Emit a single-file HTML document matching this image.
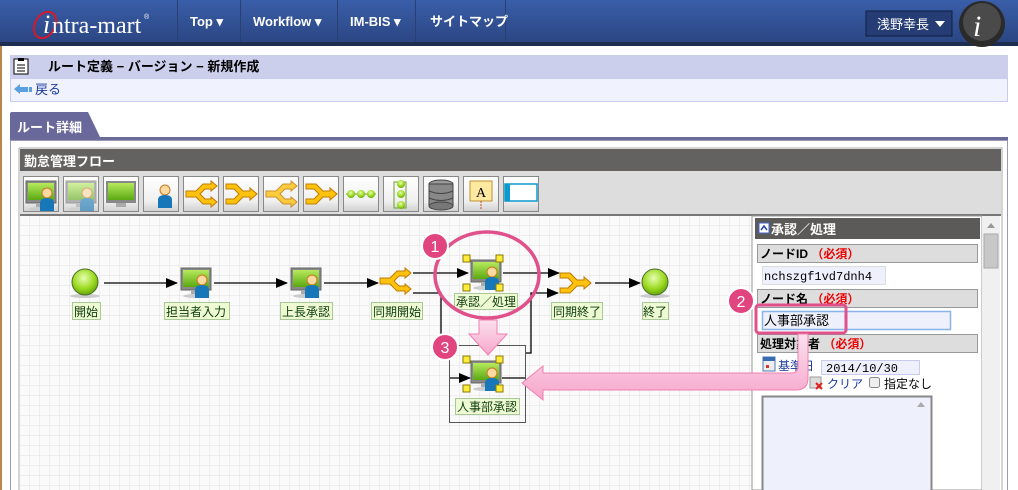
<!DOCTYPE html>
<html><head><meta charset="utf-8"><style>
body{margin:0;width:1018px;height:490px;overflow:hidden;background:#fff;font-family:"Liberation Sans","Noto Sans CJK JP",sans-serif;}
svg{display:block}
</style></head><body>
<svg width="1018" height="490" viewBox="0 0 1018 490" xmlns="http://www.w3.org/2000/svg" font-family="Liberation Sans, Noto Sans CJK JP, sans-serif">
<defs>
<linearGradient id="hdr" x1="0" y1="0" x2="0" y2="1"><stop offset="0" stop-color="#3a5ea9"/><stop offset="1" stop-color="#2b4683"/></linearGradient>
<linearGradient id="btn" x1="0" y1="0" x2="0" y2="1"><stop offset="0" stop-color="#ffffff"/><stop offset="0.7" stop-color="#f0f0f0"/><stop offset="1" stop-color="#d0d0d0"/></linearGradient>
<linearGradient id="scr" x1="0" y1="0" x2="0" y2="1"><stop offset="0" stop-color="#b6ea5c"/><stop offset="1" stop-color="#5aa812"/></linearGradient>
<radialGradient id="ball" cx="0.45" cy="0.35" r="0.7"><stop offset="0" stop-color="#e6ffb0"/><stop offset="0.6" stop-color="#9ad81e"/><stop offset="1" stop-color="#5a9a0a"/></radialGradient>
<linearGradient id="pink" x1="0" y1="0" x2="0" y2="1"><stop offset="0" stop-color="#fbe0ee"/><stop offset="1" stop-color="#f7a6cb"/></linearGradient>
<pattern id="grid" width="10" height="10" patternUnits="userSpaceOnUse" x="20" y="216"><rect width="10" height="10" fill="#fafafa"/><path d="M10 0V10H0" fill="none" stroke="#e2e2e2" stroke-width="1"/></pattern>
<marker id="ah" markerWidth="12" markerHeight="10" refX="11" refY="5" orient="auto" markerUnits="userSpaceOnUse"><path d="M0 0L12 5L0 10z" fill="#000"/></marker>
<g id="user">
  <rect x="0" y="0" width="30" height="22" fill="#888" stroke="#666"/>
  <rect x="2" y="2" width="26" height="17" fill="url(#scr)"/>
  <rect x="10" y="22" width="10" height="4" fill="#aaa"/>
  <ellipse cx="15" cy="28" rx="13" ry="2" fill="#ccc"/>
  <circle cx="21" cy="12" r="5" fill="#fbd9a0" stroke="#c77a20"/>
  <path d="M14 30V22Q14 17 21 17Q28 17 28 22V30z" fill="#1877b8"/>
</g>
<g id="splitI">
  <path d="M0 10H10L17 3H25V0L31 5L25 10V8H19L14 13L19 18H25V16L31 21L25 26V23H17L10 16H0z" fill="#ffc20e" stroke="#c07a00"/>
</g>
<g id="joinI">
  <path d="M0 3H10L17 10H24V7L31 13L24 19V16H17L10 23H0V18H8L13 13L8 8H0z" fill="#ffc20e" stroke="#c07a00"/>
</g>
</defs>

<!-- header -->
<rect x="0" y="0" width="1018" height="42" fill="url(#hdr)"/>
<rect x="0" y="42" width="1018" height="4" fill="#1d2d4f"/>
<g stroke="#2a3f72" stroke-width="1"><line x1="177.5" y1="0" x2="177.5" y2="42"/><line x1="240.5" y1="0" x2="240.5" y2="42"/><line x1="337.5" y1="0" x2="337.5" y2="42"/><line x1="415.5" y1="0" x2="415.5" y2="42"/><line x1="505.5" y1="0" x2="505.5" y2="42"/></g>
<ellipse cx="45" cy="25" rx="10" ry="14" fill="none" stroke="#d8182a" stroke-width="2" transform="rotate(30 45 25)"/>
<text x="43" y="33" font-family="Liberation Serif, serif" font-size="26" fill="#fff" font-style="italic">i</text>
<text x="52" y="33" font-family="Liberation Serif, serif" font-size="24" fill="#fff">ntra-mart</text>
<text x="144" y="19" font-size="7" fill="#fff">®</text>
<g font-size="13" font-weight="bold" fill="#fff">
<text x="190" y="26">Top ▾</text><text x="253" y="26">Workflow ▾</text><text x="350" y="26">IM-BIS ▾</text><text x="430" y="26">サイトマップ</text></g>
<rect x="866" y="11" width="86" height="25" fill="#253d74" stroke="#0f1f40"/>
<text x="877" y="29" font-size="13" fill="#fff">浅野幸長</text><path d="M935 21L945 21L940 27z" fill="#fff"/>
<circle cx="982" cy="24" r="23" fill="#2a2a2a"/><circle cx="982" cy="22" r="19" fill="#4a4a4a"/>
<text x="973" y="36" font-family="Liberation Serif, serif" font-style="italic" font-size="30" fill="#fff">i</text>

<rect x="0" y="46" width="2" height="444" fill="#b8864a"/>

<!-- title -->
<rect x="10" y="55" width="998" height="23" fill="#cccfeb"/>
<rect x="10.5" y="78.5" width="997" height="23" fill="#f0f2fd" stroke="#c8cbee"/>
<rect x="14" y="59" width="14" height="15" fill="#fff" stroke="#000"/><rect x="18" y="58" width="6" height="3" fill="#000"/><path d="M17 65H25M17 68H25M17 71H25" stroke="#000"/>
<text x="48" y="71" font-size="13" font-weight="bold" fill="#000">ルート定義 − バージョン − 新規作成</text>
<path d="M14 89L20 84V87H28V92H20V94z" fill="#5aa0e0"/><rect x="29" y="87" width="3" height="5" fill="#5aa0e0"/>
<text x="35" y="94" font-size="13" fill="#1a3a9a">戻る</text>

<!-- tab -->
<path d="M10 140V114Q10 112 12 112H88L100 137V140z" fill="#68689a"/>
<rect x="10" y="137" width="998" height="3" fill="#6b6b99"/>
<text x="17" y="132" font-size="13" font-weight="bold" fill="#fff">ルート詳細</text>
<rect x="10.5" y="140.5" width="997" height="360" fill="#fff" stroke="#9a9ab8"/>
<rect x="19" y="148" width="983" height="350" fill="none" stroke="#aaa"/>
<rect x="20" y="149" width="981" height="22" fill="#646260"/>
<text x="24" y="166" font-size="13" font-weight="bold" fill="#fff">勤怠管理フロー</text>
<rect x="20" y="171" width="981" height="44" fill="#dedddd"/>
<rect x="20" y="214" width="981" height="2" fill="#777"/>
<g>
<rect x="23.5" y="176.5" width="35" height="35" fill="url(#btn)" stroke="#888"/>
<rect x="63.5" y="176.5" width="35" height="35" fill="url(#btn)" stroke="#888"/>
<rect x="103.5" y="176.5" width="35" height="35" fill="url(#btn)" stroke="#888"/>
<rect x="143.5" y="176.5" width="35" height="35" fill="url(#btn)" stroke="#888"/>
<rect x="183.5" y="176.5" width="35" height="35" fill="url(#btn)" stroke="#888"/>
<rect x="223.5" y="176.5" width="35" height="35" fill="url(#btn)" stroke="#888"/>
<rect x="263.5" y="176.5" width="35" height="35" fill="url(#btn)" stroke="#888"/>
<rect x="303.5" y="176.5" width="35" height="35" fill="url(#btn)" stroke="#888"/>
<rect x="343.5" y="176.5" width="35" height="35" fill="url(#btn)" stroke="#888"/>
<rect x="383.5" y="176.5" width="35" height="35" fill="url(#btn)" stroke="#888"/>
<rect x="423.5" y="176.5" width="35" height="35" fill="url(#btn)" stroke="#888"/>
<rect x="463.5" y="176.5" width="35" height="35" fill="url(#btn)" stroke="#888"/>
<rect x="503.5" y="176.5" width="35" height="35" fill="url(#btn)" stroke="#888"/>
<use href="#user" x="26" y="181"/><use href="#user" x="66" y="181" opacity="0.6"/>
<rect x="106" y="181" width="30" height="22" fill="#888"/><rect x="108" y="183" width="26" height="17" fill="url(#scr)"/><rect x="116" y="203" width="10" height="4" fill="#aaa"/>
<circle cx="165" cy="190" r="5" fill="#fbd9a0" stroke="#c77a20"/><path d="M158 208V200Q158 195 165 195Q172 195 172 200V208z" fill="#1877b8"/>
<use href="#splitI" x="186" y="181"/><use href="#joinI" x="226" y="181"/>
<g opacity="0.8"><use href="#splitI" x="266" y="181"/></g><use href="#joinI" x="306" y="181"/>
<line x1="346" y1="194" x2="376" y2="194" stroke="#6a9a30"/><circle cx="351" cy="194" r="4" fill="url(#ball)"/><circle cx="361" cy="194" r="4" fill="url(#ball)"/><circle cx="371" cy="194" r="4" fill="url(#ball)"/>
<rect x="394" y="182" width="12" height="26" fill="none" stroke="#6a9a30"/><circle cx="401" cy="184" r="4" fill="url(#ball)"/><circle cx="401" cy="194" r="4" fill="url(#ball)"/><circle cx="401" cy="205" r="4" fill="url(#ball)"/>
<ellipse cx="441" cy="184" rx="12" ry="4" fill="#999" stroke="#444"/><rect x="429" y="184" width="24" height="22" fill="#888" stroke="#444"/><ellipse cx="441" cy="206" rx="12" ry="4" fill="#777" stroke="#444"/><path d="M429 191Q441 196 453 191M429 198Q441 203 453 198" stroke="#444" fill="none"/>
<rect x="470" y="181" width="22" height="20" fill="#fde9a0" stroke="#c09030"/><text x="476" y="197" font-family="Liberation Serif, serif" font-size="14" fill="#000">A</text><line x1="481" y1="201" x2="481" y2="209" stroke="#c0501a" stroke-dasharray="2 1"/>
<rect x="505" y="184" width="32" height="17" fill="#fff" stroke="#0a9ad0" stroke-width="1.5"/><rect x="505" y="184" width="5" height="17" fill="#0a9ad0"/>
</g>

<!-- canvas -->
<rect x="20" y="216" width="732" height="274" fill="url(#grid)"/>

<!-- connectors -->
<g stroke="#000" stroke-width="1.3" fill="none">
<line x1="104" y1="283" x2="177" y2="283" marker-end="url(#ah)"/>
<line x1="214" y1="283" x2="287" y2="283" marker-end="url(#ah)"/>
<line x1="324" y1="283" x2="378" y2="283" marker-end="url(#ah)"/>
<line x1="413" y1="273" x2="468" y2="273" marker-end="url(#ah)"/>
<polyline points="413,293 441,293 441,345"/>
<line x1="503" y1="273" x2="559" y2="273" marker-end="url(#ah)"/>
<polyline points="526,353 531,353 531,293 558,293" marker-end="url(#ah)"/>
<line x1="595" y1="283" x2="640" y2="283" marker-end="url(#ah)"/>
<line x1="449" y1="378" x2="470" y2="378" marker-end="url(#ah)"/>
<line x1="502" y1="378" x2="526" y2="378"/>
</g>
<rect x="449.5" y="345.5" width="76" height="77" fill="none" stroke="#555"/>

<!-- nodes -->
<ellipse cx="85" cy="296" rx="15" ry="2" fill="#ccc"/>
<circle cx="85" cy="282" r="13" fill="url(#ball)" stroke="#4a6a2a"/>
<ellipse cx="655" cy="296" rx="15" ry="2" fill="#ccc"/>
<circle cx="655" cy="282" r="13" fill="url(#ball)" stroke="#4a6a2a"/>
<use href="#user" x="181" y="268"/>
<use href="#user" x="291" y="268"/>
<use href="#user" x="471" y="260"/>
<use href="#user" x="471" y="361"/>
<use href="#splitI" x="380" y="268"/>
<use href="#joinI" x="560" y="270"/>
<g fill="#ffeb3b" stroke="#8a7a00">
<rect x="463" y="255" width="7" height="7"/><rect x="496" y="255" width="7" height="7"/><rect x="463" y="284" width="7" height="7"/><rect x="496" y="284" width="7" height="7"/>
<rect x="463" y="356" width="7" height="7"/><rect x="496" y="356" width="7" height="7"/><rect x="463" y="385" width="7" height="7"/><rect x="496" y="385" width="7" height="7"/>
</g>
<g fill="#eefbd2" stroke="#a8c898">
<rect x="72.5" y="302.5" width="28" height="17"/>
<rect x="164.5" y="302.5" width="65" height="17"/>
<rect x="280.5" y="302.5" width="52" height="17"/>
<rect x="371.5" y="302.5" width="51" height="17"/>
<rect x="454.5" y="293.5" width="63" height="16"/>
<rect x="551.5" y="302.5" width="51" height="17"/>
<rect x="642.5" y="302.5" width="26" height="17"/>
<rect x="455.5" y="398.5" width="64" height="16"/>
</g>
<g font-size="12" fill="#0e3a0e">
<text x="74" y="316">開始</text><text x="166" y="316">担当者入力</text><text x="282" y="316">上長承認</text><text x="373" y="316">同期開始</text>
<text x="456" y="306">承認／処理</text><text x="553" y="316">同期終了</text><text x="643" y="316">終了</text><text x="457" y="411">人事部承認</text></g>

<!-- right panel -->
<rect x="752" y="216" width="230" height="274" fill="#fff" stroke="#999"/>
<rect x="982" y="216" width="18" height="274" fill="#f0f0f0"/>
<rect x="984" y="234" width="14" height="34" fill="#c8c8c8" stroke="#aaa"/>
<path d="M987 228L991 223L995 228z" fill="#999"/>
<rect x="755" y="218" width="225" height="21" fill="#5c5a58"/>
<rect x="759" y="223" width="10" height="10" fill="#fff" stroke="#4466cc"/><path d="M761 230L764 226L767 230" stroke="#2244aa" fill="none" stroke-width="1.5"/>
<text x="771" y="234" font-size="13" font-weight="bold" fill="#fff">承認／処理</text>
<g fill="#dedddd" stroke="#999"><rect x="757.5" y="244.5" width="220" height="18"/><rect x="757.5" y="289.5" width="220" height="18"/><rect x="757.5" y="334.5" width="220" height="18"/></g>
<g font-size="12" font-weight="bold"><text x="760" y="258" fill="#000">ノードID <tspan fill="#e00">（必須）</tspan></text>
<text x="760" y="303" fill="#000">ノード名 <tspan fill="#e00">（必須）</tspan></text>
<text x="760" y="348" fill="#000">処理対象者 <tspan fill="#e00">（必須）</tspan></text></g>
<rect x="762.5" y="266.5" width="123" height="18" fill="#eef0fc" stroke="#ddd"/>
<text x="764" y="280" font-family="Liberation Mono, monospace" font-size="12" fill="#000">nchszgf1vd7dnh4</text>
<rect x="762.5" y="311.5" width="188" height="18" fill="#eef0fc" stroke="#8ab4e8" stroke-width="1.5"/>
<text x="764" y="325" font-size="13" fill="#000">人事部承認</text>
<rect x="763" y="357" width="12" height="14" fill="#eee" stroke="#4a7ab8"/><rect x="763" y="357" width="12" height="4" fill="#3a6ab0"/><rect x="766" y="365" width="3" height="3" fill="#d33"/>
<text x="778" y="370" font-size="12" fill="#1a3a9a">基準日</text>
<rect x="821.5" y="360.5" width="98" height="14" fill="#eef0fc" stroke="#c8cbee"/>
<text x="826" y="372" font-family="Liberation Mono, monospace" font-size="12" fill="#000">2014/10/30</text>
<rect x="810" y="377" width="11" height="11" fill="#ddd" stroke="#999"/><path d="M816 383L822 389M822 383L816 389" stroke="#e02020" stroke-width="2"/>
<text x="827" y="388" font-size="12" fill="#1a3a9a">クリア</text>
<rect x="869.5" y="377.5" width="10" height="10" rx="2" fill="#eee" stroke="#888"/>
<text x="884" y="388" font-size="12" fill="#000">指定なし</text>
<rect x="762.5" y="396.5" width="169" height="95" fill="#eef0fc" stroke="#888" stroke-width="2"/>
<path d="M917 407L921 402L925 407z" fill="#aaa"/>

<!-- annotations -->
<ellipse cx="487" cy="275" rx="52" ry="43" fill="none" stroke="#e0508a" stroke-width="3.5"/>
<path d="M479 320H497V334H507L488 355L469 334H479z" fill="url(#pink)" stroke="#f080b0"/>
<rect x="756" y="305" width="90" height="28" rx="3" fill="none" stroke="#e0508a" stroke-width="3"/>
<path d="M798 334H808V378Q808 390 796 390H543V400L522 383L543 366V373H791Q798 373 798 366z" fill="url(#pink)" stroke="#f080b0"/>
<g fill="#e0457f" stroke="#fff" stroke-width="2"><circle cx="435" cy="246" r="13"/><circle cx="741" cy="301" r="13"/><circle cx="445" cy="347" r="13"/></g>
<g font-size="16" fill="#fff" text-anchor="middle"><text x="435" y="252">1</text><text x="741" y="307">2</text><text x="445" y="353">3</text></g>
</svg>
</body></html>
